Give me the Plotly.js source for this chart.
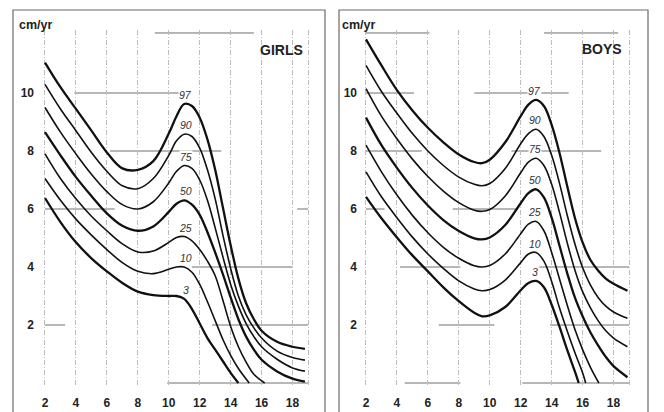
<!DOCTYPE html>
<html><head><meta charset="utf-8">
<script src="https://cdn.plot.ly/plotly-3.0.1.min.js"></script>
<style>html,body{margin:0;padding:0;background:#fff;} #chart{width:664px;height:412px;}</style>
</head><body><div id="chart"></div>
<script>
// ---------- data ----------
const percentiles = ['97', '90', '75', '50', '25', '10', '3'];
const ageTicks = [2, 4, 6, 8, 10, 12, 14, 16, 18, 19];
const ageTickText = ['2', '4', '6', '8', '10', '12', '14', '16', '18', ''];
const velTicks = [2, 4, 6, 8, 10];

// GIRLS
const girlsAges = [2, 3, 4, 5, 6, 7, 8, 9, 10, 10.5, 11, 11.5, 12, 12.5, 13, 13.5, 14, 14.5, 15, 15.5, 16, 17, 18, 18.8];
const girls97 = [11.05, 10.2, 9.45, 8.7, 7.95, 7.4, 7.35, 7.65, 8.6, 9.2, 9.62, 9.55, 9.15, 8.4, 7.35, 6.05, 4.75, 3.6, 2.75, 2.2, 1.8, 1.42, 1.25, 1.18];
const girls90 = [10.3, 9.45, 8.7, 7.95, 7.3, 6.8, 6.7, 7.05, 7.85, 8.35, 8.58, 8.5, 8.1, 7.35, 6.35, 5.1, 3.95, 3.0, 2.35, 1.9, 1.55, 1.1, 0.88, 0.79];
const girls75 = [9.5, 8.65, 7.9, 7.2, 6.6, 6.15, 6.0, 6.25, 6.9, 7.3, 7.5, 7.4, 7.0, 6.3, 5.35, 4.35, 3.4, 2.65, 2.05, 1.6, 1.25, 0.82, 0.52, 0.41];
const girls50 = [8.65, 7.85, 7.1, 6.45, 5.85, 5.42, 5.25, 5.4, 5.9, 6.18, 6.3, 6.15, 5.8, 5.2, 4.5, 3.75, 2.95, 2.2, 1.6, 1.15, 0.8, 0.4, 0.15, 0.05];
const girls25Ages = [2, 3, 4, 5, 6, 7, 8, 9, 10, 10.5, 11, 11.5, 12, 12.5, 13, 13.5, 14, 14.5, 15, 15.5, 16.2];
const girls25 = [7.9, 7.05, 6.35, 5.75, 5.25, 4.8, 4.52, 4.55, 4.85, 5.02, 5.05, 4.9, 4.6, 4.2, 3.7, 2.85, 1.95, 1.25, 0.72, 0.3, 0];
const girls10Ages = [2, 3, 4, 5, 6, 7, 8, 9, 10, 10.5, 11, 11.5, 12, 12.5, 13, 13.5, 14, 14.5, 15.2];
const girls10 = [7.05, 6.3, 5.65, 5.1, 4.6, 4.15, 3.85, 3.77, 3.92, 4.0, 4.0, 3.82, 3.4, 2.8, 2.15, 1.5, 0.95, 0.5, 0];
const girls3Ages = [2, 3, 4, 5, 6, 7, 8, 9, 10, 10.5, 11, 11.5, 12, 12.5, 13, 13.5, 14, 14.5];
const girls3 = [6.38, 5.55, 4.85, 4.3, 3.85, 3.45, 3.15, 3.03, 3.0, 3.0, 2.9, 2.55, 2.05, 1.55, 1.15, 0.75, 0.35, 0];

// BOYS
const boysAges = [2, 3, 4, 5, 6, 7, 8, 9, 9.5, 10, 11, 12, 12.5, 13, 13.5, 14, 14.5, 15, 15.5, 16, 16.5, 17, 17.5, 18, 18.9];
const boys97 = [11.85, 10.95, 10.1, 9.4, 8.8, 8.3, 7.88, 7.62, 7.58, 7.7, 8.3, 9.2, 9.6, 9.76, 9.55, 8.9, 7.95, 6.8, 5.7, 4.85, 4.25, 3.88, 3.6, 3.42, 3.18];
const boys90 = [10.95, 10.05, 9.3, 8.6, 8.0, 7.5, 7.1, 6.85, 6.8, 6.88, 7.4, 8.25, 8.6, 8.75, 8.5, 7.85, 6.9, 5.8, 4.8, 3.98, 3.38, 2.95, 2.65, 2.45, 2.23];
const boys75 = [10.15, 9.2, 8.42, 7.72, 7.12, 6.62, 6.22, 5.96, 5.92, 5.98, 6.45, 7.25, 7.62, 7.75, 7.5, 6.85, 5.9, 4.85, 3.9, 3.15, 2.6, 2.15, 1.8, 1.55, 1.25];
const boys50 = [9.15, 8.2, 7.42, 6.72, 6.12, 5.62, 5.24, 4.99, 4.95, 5.02, 5.45, 6.2, 6.55, 6.68, 6.4, 5.7, 4.75, 3.8, 2.95, 2.3, 1.75, 1.3, 0.9, 0.58, 0.2];
const boys25Ages = [2, 3, 4, 5, 6, 7, 8, 9, 9.5, 10, 11, 12, 12.5, 13, 13.5, 14, 14.5, 15, 15.5, 16, 16.5, 17.05];
const boys25 = [8.2, 7.28, 6.48, 5.78, 5.18, 4.68, 4.3, 4.04, 4.0, 4.05, 4.45, 5.15, 5.48, 5.57, 5.25, 4.5, 3.6, 2.7, 1.85, 1.15, 0.55, 0];
const boys10Ages = [2, 3, 4, 5, 6, 7, 8, 9, 9.5, 10, 11, 12, 12.5, 13, 13.5, 14, 14.5, 15, 15.5, 16, 16.2];
const boys10 = [7.28, 6.42, 5.7, 5.03, 4.45, 3.95, 3.52, 3.24, 3.18, 3.22, 3.55, 4.15, 4.45, 4.5, 4.2, 3.5, 2.6, 1.8, 1.05, 0.35, 0];
const boys3Ages = [2, 3, 4, 5, 6, 7, 8, 9, 9.5, 10, 11, 12, 12.5, 13, 13.5, 14, 14.5, 15, 15.5, 15.75];
const boys3 = [6.42, 5.68, 5.02, 4.4, 3.85, 3.3, 2.82, 2.42, 2.3, 2.33, 2.62, 3.2, 3.45, 3.52, 3.3, 2.7, 1.95, 1.15, 0.4, 0];

// partial reference grid lines of the printed chart: [level, fromAge, toAge]
const girlsRefLines = [[12.07, 9.1, 15.5], [10, 3.9, 11.4], [8, 6.2, 13.4], [6, 2, 6.5], [6, 18.3, 19], [4, 11.5, 18], [2, 2, 3.3], [2, 12.8, 19], [0, 9.9, 19]];
const boysRefLines = [[12.07, 2, 6.1], [12.07, 13.5, 18.3], [10, 2, 5.1], [10, 9.0, 15.1], [8, 2, 5.6], [8, 11.4, 17.2], [6, 2, 3.2], [6, 7.6, 11.8], [4, 4.2, 8.1], [4, 13.2, 19], [2, 6.7, 10.3], [2, 13.9, 19], [0, 4.5, 8.1], [0, 12.1, 19]];

// ---------- build ----------
const girlsSeries = [
  [girlsAges, girls97], [girlsAges, girls90], [girlsAges, girls75], [girlsAges, girls50],
  [girls25Ages, girls25], [girls10Ages, girls10], [girls3Ages, girls3]
];
const boysSeries = [
  [boysAges, boys97], [boysAges, boys90], [boysAges, boys75], [boysAges, boys50],
  [boys25Ages, boys25], [boys10Ages, boys10], [boys3Ages, boys3]
];
const thick = {'97': true, '50': true, '3': true};

const traces = [];
const annotations = [];
const shapes = [];

function valueAt(xs, ys, a) {
  let best = 0, bd = 1e9;
  xs.forEach((x, i) => { const d = Math.abs(x - a); if (d < bd) { bd = d; best = i; } });
  return ys[best];
}

function addPanel(series, xa, ya, labelAge, lookupAge) {
  series.forEach((s, i) => {
    const p = percentiles[i];
    traces.push({
      x: s[0], y: s[1], xaxis: xa, yaxis: ya, type: 'scatter', mode: 'lines',
      line: {color: '#111', width: thick[p] ? 2.3 : 1.6, shape: 'spline', smoothing: 1},
      hoverinfo: 'skip'
    });
    annotations.push({
      xref: xa, yref: ya, x: labelAge, y: valueAt(s[0], s[1], lookupAge),
      text: p, showarrow: false, xanchor: 'center', yanchor: 'bottom', yshift: 2,
      bgcolor: '#fff', borderpad: 0,
      font: {family: '"Liberation Sans", Arial, sans-serif', size: 10.5, style: 'italic', color: '#333'}
    });
  });
}
addPanel(girlsSeries, 'x', 'y', 11.1, 11);
addPanel(boysSeries, 'x2', 'y2', 12.9, 13);

function addRefLines(list, xa, ya) {
  list.forEach(r => shapes.push({
    type: 'line', xref: xa, yref: ya, x0: r[1], x1: r[2], y0: r[0], y1: r[0],
    line: {color: '#707070', width: 1}, layer: 'below'
  }));
}
addRefLines(girlsRefLines, 'x', 'y');
addRefLines(boysRefLines, 'x2', 'y2');

// panel frames
[[13, 325], [339, 648]].forEach(f => shapes.push({
  type: 'rect', xref: 'paper', yref: 'paper', x0: f[0] / 664, x1: f[1] / 664, y0: -0.05, y1: 1 - 10 / 412,
  line: {color: '#6a6a6a', width: 1.2}, fillcolor: 'rgba(0,0,0,0)', layer: 'below'
}));

const FONT = '"Liberation Sans", Arial, sans-serif';
[['GIRLS', 281, 50], ['BOYS', 602, 49]].forEach(t => annotations.push({
  xref: 'paper', yref: 'paper', x: t[1] / 664, y: 1 - t[2] / 412, text: t[0], showarrow: false,
  xanchor: 'center', yanchor: 'middle', font: {family: FONT, size: 14, weight: 'bold', color: '#222'}
}));
[[35], [358]].forEach(t => annotations.push({
  xref: 'paper', yref: 'paper', x: t[0] / 664, y: 1 - 25 / 412, text: 'cm/yr', showarrow: false,
  xanchor: 'center', yanchor: 'middle', font: {family: FONT, size: 12.5, weight: 'bold', color: '#222'}
}));

const xRange = [2 - 5 / 15.5, 19 + 5 / 15.5];
const yDomain = [1 - 386 / 412, 1 - 30 / 412];
const yRange = [-3 / 29, 353 / 29];
function xAxis(d0, d1, anchor) {
  return {
    domain: [d0 / 664, d1 / 664], range: xRange, anchor: anchor,
    tickvals: ageTicks, ticktext: ageTickText, ticks: '',
    showgrid: true, gridcolor: '#bdbdbd', gridwidth: 1, griddash: '5px,2px,1px,2px',
    zeroline: false, showline: false, fixedrange: true, ticklabelstandoff: 8,
    tickfont: {family: FONT, size: 12, weight: 'bold', color: '#222'}
  };
}
function yAxis(anchor, standoff) {
  return {
    domain: yDomain, range: yRange, anchor: anchor,
    tickvals: velTicks, ticks: '', showgrid: false, zeroline: false, showline: false,
    fixedrange: true, ticklabelstandoff: standoff,
    tickfont: {family: FONT, size: 12, weight: 'bold', color: '#222'}
  };
}

const layout = {
  width: 664, height: 412, margin: {l: 0, r: 0, t: 0, b: 0},
  paper_bgcolor: '#fff', plot_bgcolor: 'rgba(0,0,0,0)', showlegend: false,
  font: {family: FONT, color: '#222'},
  xaxis: xAxis(40, 313, 'y'), yaxis: yAxis('x', 5),
  xaxis2: xAxis(361, 634, 'y2'), yaxis2: yAxis('x2', 3),
  shapes: shapes, annotations: annotations
};

Plotly.newPlot('chart', traces, layout, {staticPlot: true, displayModeBar: false});
</script>
</body></html>
